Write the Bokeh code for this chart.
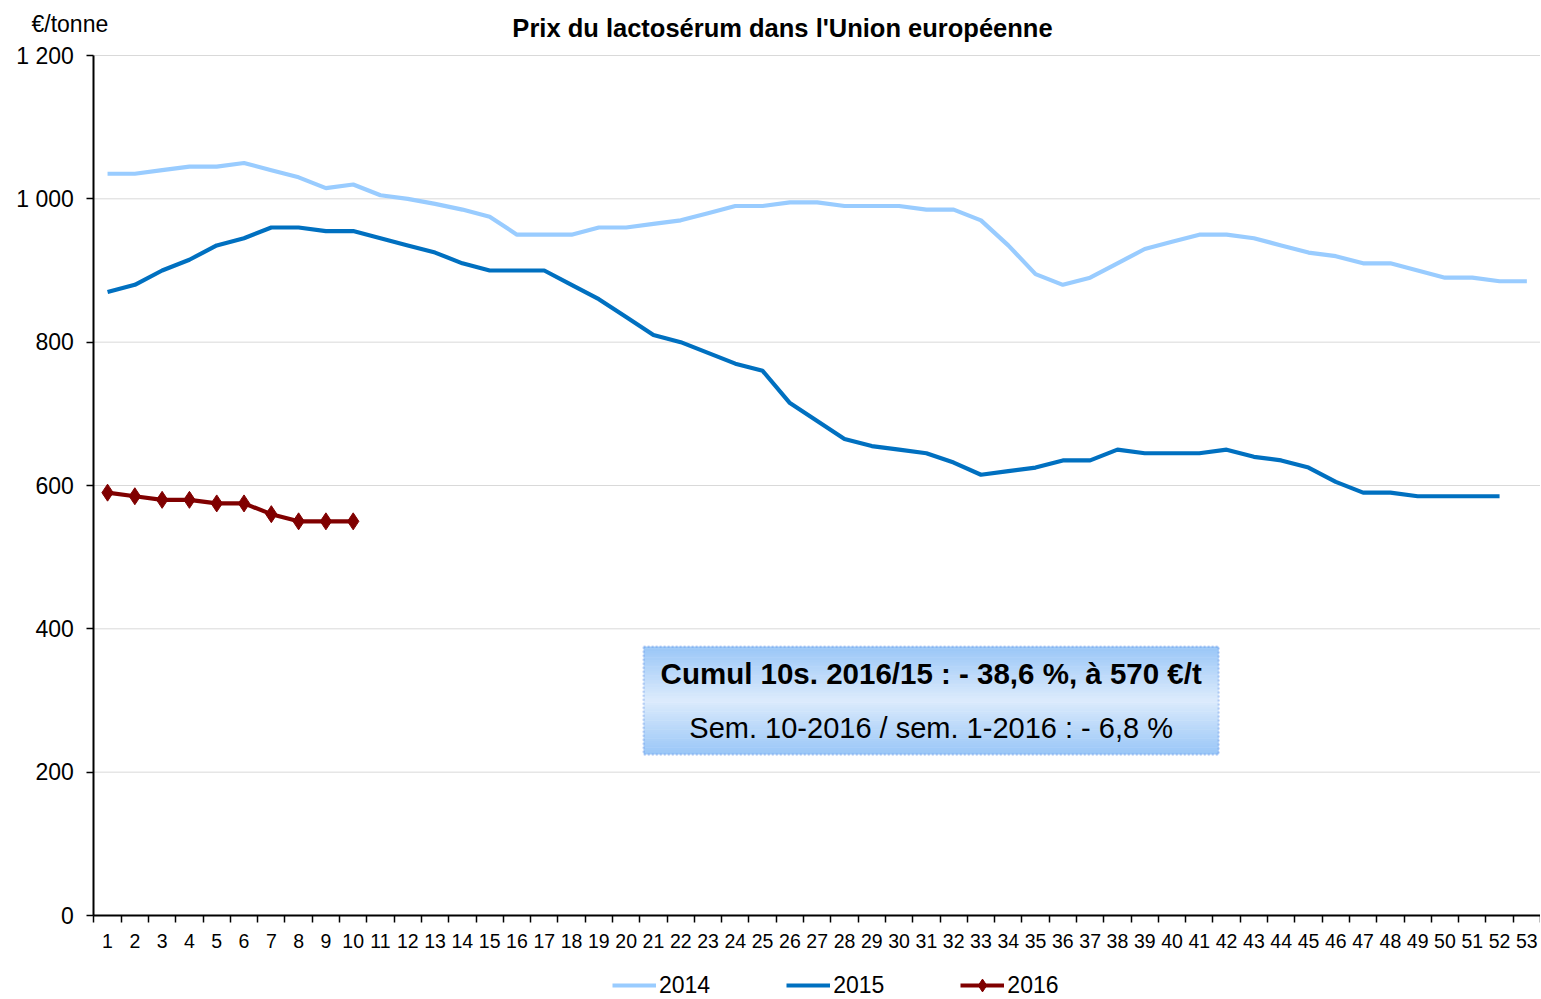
from bokeh.plotting import figure
from bokeh.models import Range1d, FixedTicker, Label, Legend, LegendItem, BoxAnnotation
from bokeh.embed import file_html
from bokeh.resources import INLINE

# ---------------- data ----------------
weeks = list(range(1, 54))
prices_2014 = [1035, 1035, 1040, 1045, 1045, 1050, 1040, 1030, 1015, 1020,
               1005, 1000, 993, 985, 975, 950, 950, 950, 960, 960,
               965, 970, 980, 990, 990, 995, 995, 990, 990, 990,
               985, 985, 970, 935, 895, 880, 890, 910, 930, 940,
               950, 950, 945, 935, 925, 920, 910, 910, 900, 890,
               890, 885, 885]
prices_2015 = [870, 880, 900, 915, 935, 945, 960, 960, 955, 955,
               945, 935, 925, 910, 900, 900, 900, 880, 860, 835,
               810, 800, 785, 770, 760, 715, 690, 665, 655, 650,
               645, 632, 615, 620, 625, 635, 635, 650, 645, 645,
               645, 650, 640, 635, 625, 605, 590, 590, 585, 585,
               585, 585]
prices_2016 = [590, 585, 580, 580, 575, 575, 560, 550, 550, 550]
series_names = ["2014", "2015", "2016"]
y_ticks = [0, 200, 400, 600, 800, 1000, 1200]
y_tick_labels = ["0", "200", "400", "600", "800", "1 000", "1 200"]
title_text = "Prix du lactosérum dans l'Union européenne"
unit_text = "€/tonne"
box_line1 = "Cumul 10s. 2016/15 : - 38,6 %, à 570 €/t"
box_line2 = "Sem. 10-2016 / sem. 1-2016 : - 6,8 %"

FONT = "Liberation Sans"
C2014, C2015, C2016 = "#99ccff", "#0070c0", "#800000"

W, H = 1540, 998
# plot area of the chart in page pixels
AX_LEFT, AX_RIGHT, AX_TOP, AX_BOTTOM = 93.4, 1540.0, 55.0, 915.0
x_lo, x_hi = weeks[0] - 0.5, weeks[-1] + 0.5
y_lo, y_hi = y_ticks[0], y_ticks[-1]
ppx = (AX_RIGHT - AX_LEFT) / (x_hi - x_lo)
ppy = (AX_BOTTOM - AX_TOP) / (y_hi - y_lo)
x_range = Range1d(x_lo - AX_LEFT / ppx, x_hi + (W - AX_RIGHT) / ppx)
y_range = Range1d(y_lo - (H - AX_BOTTOM) / ppy, y_hi + AX_TOP / ppy)

p = figure(width=W, height=H, x_range=x_range, y_range=y_range,
           output_backend="svg", toolbar_location=None,
           min_border_left=0, min_border_right=0, min_border_top=0, min_border_bottom=0)
p.title.visible = False
p.outline_line_color = None
p.background_fill_color = "white"
p.border_fill_color = "white"
p.xgrid.visible = False
p.ygrid.visible = False

# horizontal gridlines limited to the plot area
grid_vals = y_ticks[1:]
p.segment(x0=[x_lo] * len(grid_vals), x1=[x_hi] * len(grid_vals), y0=grid_vals, y1=grid_vals,
          line_color="#d9d9d9", line_width=1)

# x axis
p.xaxis.fixed_location = y_lo
p.xaxis.bounds = (x_lo, x_hi)
p.xaxis.ticker = FixedTicker(ticks=weeks,
                             minor_ticks=[w - 0.5 for w in weeks] + [weeks[-1] + 0.5])
p.xaxis.major_tick_out = 0
p.xaxis.major_tick_in = 0
p.xaxis.minor_tick_out = 7
p.xaxis.minor_tick_in = 0
p.xaxis.minor_tick_line_color = "black"
p.xaxis.minor_tick_line_width = 1.5
p.xaxis.axis_line_color = "black"
p.xaxis.axis_line_width = 2
p.xaxis.major_label_text_font = FONT
p.xaxis.major_label_text_font_size = "19.5px"
p.xaxis.major_label_text_color = "black"
p.xaxis.major_label_standoff = 11

# y axis
p.yaxis.fixed_location = x_lo
p.yaxis.bounds = (y_lo, y_hi)
p.yaxis.ticker = FixedTicker(ticks=y_ticks)
p.yaxis.major_label_overrides = {t: l for t, l in zip(y_ticks, y_tick_labels)}
p.yaxis.major_tick_out = 7
p.yaxis.major_tick_in = 0
p.yaxis.minor_tick_out = 0
p.yaxis.minor_tick_in = 0
p.yaxis.major_tick_line_color = "black"
p.yaxis.major_tick_line_width = 1.5
p.yaxis.axis_line_color = "black"
p.yaxis.axis_line_width = 2
p.yaxis.major_label_text_font = FONT
p.yaxis.major_label_text_font_size = "23px"
p.yaxis.major_label_text_color = "black"
p.yaxis.major_label_standoff = 13

# annotation box (vertical gradient made of thin strips)
box_left, box_right, box_bottom, box_top = 20.64, 41.71, 224.6, 375.3
n_strips = 48
light = (0xdc, 0xeb, 0xfc)
dark = (0x99, 0xc6, 0xf7)
for i in range(n_strips):
    t = (i + 0.5) / n_strips
    d = abs(t - 0.5) * 2
    col = "#%02x%02x%02x" % tuple(int(round(light[k] + (dark[k] - light[k]) * d)) for k in range(3))
    y0 = box_bottom + (box_top - box_bottom) * i / n_strips
    y1 = box_bottom + (box_top - box_bottom) * (i + 1.2) / n_strips
    p.add_layout(BoxAnnotation(left=box_left, right=box_right, bottom=y0, top=min(y1, box_top),
                               fill_color=col, fill_alpha=1, line_color=None, level="underlay"))
p.add_layout(BoxAnnotation(left=box_left, right=box_right, bottom=box_bottom, top=box_top,
                           fill_alpha=0, line_color="#3a76e0", line_width=2.2, line_dash="2 2",
                           level="underlay"))
box_cx = (box_left + box_right) / 2
p.add_layout(Label(x=box_cx, y=337.7, text=box_line1, text_font=FONT, text_font_size="29.5px",
                   text_font_style="bold", text_align="center", text_baseline="middle",
                   text_color="black"))
p.add_layout(Label(x=box_cx, y=262.3, text=box_line2, text_font=FONT, text_font_size="29px",
                   text_align="center", text_baseline="middle", text_color="black"))

# series
l14 = p.line(weeks[:len(prices_2014)], prices_2014, line_color=C2014, line_width=4.2)
l15 = p.line(weeks[:len(prices_2015)], prices_2015, line_color=C2015, line_width=4.2)
l16 = p.line(weeks[:len(prices_2016)], prices_2016, line_color=C2016, line_width=4.2)
s16 = p.scatter(weeks[:len(prices_2016)], prices_2016, marker="diamond", size=17,
                fill_color=C2016, line_color=C2016)

# title and unit (screen units from the bottom-left of the canvas)
p.add_layout(Label(x=782, y=H - 27, x_units="screen", y_units="screen", text=title_text,
                   text_font=FONT, text_font_size="25.5px", text_font_style="bold",
                   text_align="center", text_baseline="middle", text_color="black"))
p.add_layout(Label(x=31, y=H - 23, x_units="screen", y_units="screen", text=unit_text,
                   text_font=FONT, text_font_size="23px",
                   text_align="left", text_baseline="middle", text_color="black"))

legend = Legend(items=[LegendItem(label=series_names[0], renderers=[l14]),
                       LegendItem(label=series_names[1], renderers=[l15]),
                       LegendItem(label=series_names[2], renderers=[l16, s16])],
                location=(612, -3), orientation="horizontal",
                glyph_width=44, glyph_height=32, label_standoff=3, spacing=76,
                padding=0, margin=0, border_line_color=None, background_fill_alpha=0,
                label_text_font=FONT, label_text_font_size="23px", label_text_color="black")
p.add_layout(legend)

open("out.html", "w").write(file_html(p, INLINE))
